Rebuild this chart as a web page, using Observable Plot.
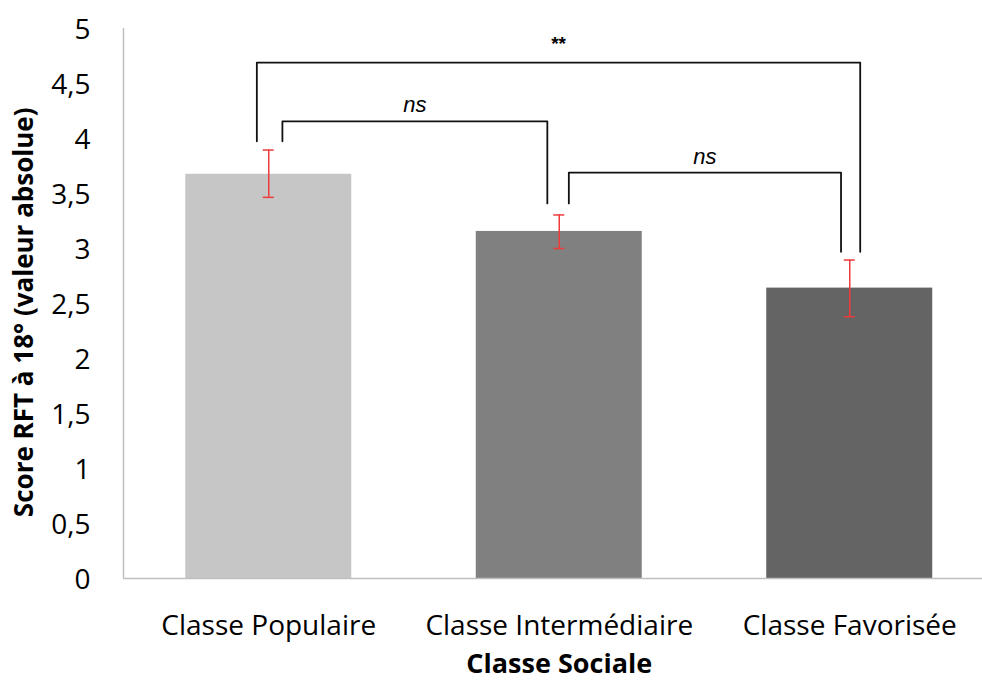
<!DOCTYPE html>
<html>
<head>
<meta charset="utf-8">
<script src="https://cdn.jsdelivr.net/npm/d3@7"></script>
<script src="https://cdn.jsdelivr.net/npm/@observablehq/plot@0.6"></script>
<style>
  html, body { margin: 0; padding: 0; background: #fff; }
  svg { display: block; }
</style>
</head>
<body>
<div id="chart"></div>
<script>
// ---- Data ----
const categories = ["Classe Populaire", "Classe Intermédiaire", "Classe Favorisée"];
const means      = [3.675, 3.155, 2.64];
const errLow     = [3.465, 3.00, 2.38];
const errHigh    = [3.895, 3.305, 2.895];
const yTicks     = [0, 0.5, 1, 1.5, 2, 2.5, 3, 3.5, 4, 4.5, 5];

// significance comparisons
const cmpFrom   = [0, 0, 1];
const cmpTo     = [2, 1, 2];
const cmpTop    = [4.69, 4.155, 3.69];
const cmpLabels = ["**", "ns", "ns"];
// bottom of bracket legs above each category
const legBottom = [3.975, 3.41, 2.97];

// ---- Styles ----
const barColors = ["#c6c6c6", "#808080", "#646464"];
const errColor = "#ee3b3b";
const axisColor = "#bfbfbf";
const halfBar = 0.2857;          // half bar width, in category units
const capHalf = 0.019;           // half cap width
// horizontal offsets of bracket legs from category centre (category units)
const legOffFrom = [-0.041, 0.047, 0.033];
const legOffTo   = [0.036, -0.041, -0.030];

const bars = categories.map((c, i) => ({c, i, v: means[i], lo: errLow[i], hi: errHigh[i], color: barColors[i]}));

const bracketPts = [];
cmpFrom.forEach((a, k) => {
  const b = cmpTo[k];
  const xa = a + legOffFrom[k], xb = b + legOffTo[k];
  bracketPts.push({k, x: xa, y: legBottom[a]});
  bracketPts.push({k, x: xa, y: cmpTop[k]});
  bracketPts.push({k, x: xb, y: cmpTop[k]});
  bracketPts.push({k, x: xb, y: legBottom[b]});
});
const bracketLabels = cmpFrom.map((a, k) => ({
  x: (a + legOffFrom[k] + cmpTo[k] + legOffTo[k]) / 2,
  y: cmpTop[k],
  label: cmpLabels[k]
}));

const fmt = d => String(d).replace(".", ",");
const FONT = "'Open Sans', sans-serif";

const plot = Plot.plot({
  width: 982,
  height: 682,
  marginTop: 28,
  marginBottom: 104,
  marginLeft: 123,
  marginRight: 0,
  style: {fontFamily: FONT, background: "#fff", color: "#000"},
  x: {type: "linear", domain: [-0.5, 2.5], range: [123, 994.5], axis: null},
  y: {domain: [0, 5], axis: null},
  marks: [
    // bars
    Plot.rectY(bars, {x1: d => d.i - halfBar, x2: d => d.i + halfBar, y: "v", fill: "color"}),
    // axes lines
    Plot.ruleX([-0.5], {y1: 0, y2: 5, stroke: axisColor, strokeWidth: 1.5}),
    Plot.ruleY([0], {x1: -0.5, x2: 2.5, stroke: axisColor, strokeWidth: 1.5}),
    // y tick labels
    Plot.text(yTicks, {x: -0.5, y: d => d, text: fmt, textAnchor: "end", dx: -33, dy: 2, fontSize: 28, fill: "#000"}),
    // x tick labels
    Plot.text(bars, {x: "i", y: 0, text: "c", dy: 48, fontSize: 28, fill: "#000"}),
    // x axis title
    Plot.text(["Classe Sociale"], {x: 1, y: 0, dy: 86, fontSize: 27, fontWeight: "bold", fill: "#000"}),
    // y axis title (placed left of the axis, rotated)
    Plot.text(["Score RFT à 18° (valeur absolue)"], {x: -0.84, y: 2.42, rotate: -90, fontSize: 26, fontWeight: "bold", fill: "#000"}),
    // error bars
    Plot.ruleX(bars, {x: "i", y1: "lo", y2: "hi", stroke: errColor, strokeWidth: 1.5}),
    Plot.ruleY(bars, {y: "hi", x1: d => d.i - capHalf, x2: d => d.i + capHalf, stroke: errColor, strokeWidth: 1.5}),
    Plot.ruleY(bars, {y: "lo", x1: d => d.i - capHalf, x2: d => d.i + capHalf, stroke: errColor, strokeWidth: 1.5}),
    // brackets
    Plot.line(bracketPts, {x: "x", y: "y", z: "k", stroke: "#111", strokeWidth: 1.8, curve: "linear"}),
    Plot.text(bracketLabels.filter(d => d.label !== "**"), {x: "x", y: "y", text: "label", lineAnchor: "bottom", dy: -9, fontSize: 22, fontStyle: "italic", fontFamily: "'Liberation Sans', Arial, sans-serif", fill: "#000"}),
    Plot.text(bracketLabels.filter(d => d.label === "**"), {x: "x", y: "y", text: "label", lineAnchor: "bottom", dy: -13, fontSize: 19, fontWeight: "bold", fontFamily: "'Liberation Sans', Arial, sans-serif", fill: "#000"})
  ]
});
document.getElementById("chart").appendChild(plot);
</script>
</body>
</html>
